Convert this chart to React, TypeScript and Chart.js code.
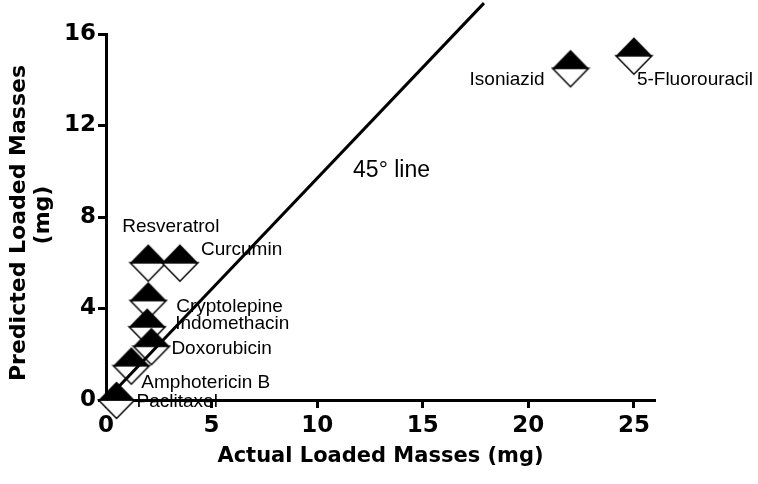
import React, { useEffect, useRef } from 'react';
import { Chart, registerables } from 'chart.js';

Chart.register(...registerables);

// ---- data ----
const drugNames = ['Isoniazid', '5-Fluorouracil', 'Resveratrol', 'Curcumin', 'Cryptolepine', 'Indomethacin', 'Doxorubicin', 'Amphotericin B', 'Paclitaxel'];
const actualMasses = [22.0, 25.0, 2.0, 3.5, 2.0, 1.95, 2.15, 1.2, 0.5];
const predictedMasses = [14.5, 15.05, 6.0, 6.0, 4.35, 3.2, 2.35, 1.5, 0.0];
const refLineX = [0, 17.9];
const refLineY = [0, 17.35];
const xTicks = [0, 5, 10, 15, 20, 25];
const yTicks = [0, 4, 8, 12, 16];
const xTitle = 'Actual Loaded Masses (mg)';
const yTitleLines = ['Predicted Loaded Masses', '(mg)'];
const refLineLabel = '45° line';
const refLineLabelAt = [11.7, 9.75];

// label placement (pixel offsets from the marker centre), styling only
const labelDx = [-26, 3, -26, 21, 28, 28, 20, 10, 20];
const labelDy = [17, 29, -31, -8, 12, 2, 8, 22, 7];
const labelAlign = ['right', 'left', 'left', 'left', 'left', 'left', 'left', 'left', 'left'];

const BOLD = '"DejaVu Sans", sans-serif';
const REG = '"Liberation Sans", Arial, sans-serif';

function makeMarker() {
  const c = document.createElement('canvas');
  c.width = 40;
  c.height = 42;
  const g = c.getContext('2d')!;
  const cx = 20, cy = 21, hw = 18, hh = 18.5;
  g.fillStyle = '#fff';
  g.strokeStyle = '#000';
  g.lineWidth = 1.5;
  g.beginPath();
  g.moveTo(cx - hw, cy);
  g.lineTo(cx, cy + hh);
  g.lineTo(cx + hw, cy);
  g.closePath();
  g.fill();
  g.stroke();
  g.fillStyle = '#000';
  g.beginPath();
  g.moveTo(cx - hw - 0.5, cy + 0.5);
  g.lineTo(cx, cy - hh);
  g.lineTo(cx + hw + 0.5, cy + 0.5);
  g.closePath();
  g.fill();
  return c;
}

const textPlugin = {
  id: 'texts',
  afterDatasetsDraw(chart: any) {
    const { ctx, scales } = chart;
    const x = scales.x, y = scales.y;
    ctx.save();
    ctx.fillStyle = '#000';
    ctx.textBaseline = 'alphabetic';
    ctx.font = '19px ' + REG;
    drugNames.forEach((name, i) => {
      const px = x.getPixelForValue(actualMasses[i]);
      const py = y.getPixelForValue(predictedMasses[i]);
      ctx.textAlign = labelAlign[i];
      ctx.fillText(name, px + labelDx[i], py + labelDy[i]);
    });
    ctx.font = '23px ' + REG;
    ctx.textAlign = 'left';
    ctx.fillText(refLineLabel, x.getPixelForValue(refLineLabelAt[0]), y.getPixelForValue(refLineLabelAt[1]));

    // axis titles
    const area = chart.chartArea;
    ctx.font = 'bold 21px ' + BOLD;
    ctx.textAlign = 'center';
    ctx.fillText(xTitle, (area.left + area.right) / 2, 462);

    ctx.save();
    ctx.translate(25, 223);
    ctx.rotate(-Math.PI / 2);
    ctx.font = 'bold 22px ' + BOLD;
    ctx.fillText(yTitleLines[0], 0, 0);
    ctx.restore();
    ctx.save();
    ctx.translate(49, 215);
    ctx.rotate(-Math.PI / 2);
    ctx.font = 'bold 22px ' + BOLD;
    ctx.fillText(yTitleLines[1], 0, 0);
    ctx.restore();
    ctx.restore();
  },
};

export default function App() {
  const ref = useRef<HTMLCanvasElement>(null);
  useEffect(() => {
    document.body.style.margin = '0';
    const marker = makeMarker();
    const axisCommon = {
      type: 'linear' as const,
      grid: { drawOnChartArea: false, drawTicks: true, tickLength: 8, tickWidth: 3, tickColor: '#000' },
      border: { display: true, width: 3, color: '#000' },
    };
    const chart = new Chart(ref.current!, {
      type: 'scatter',
      data: {
        datasets: [
          {
            type: 'line',
            data: refLineX.map((v, i) => ({ x: v, y: refLineY[i] })),
            borderColor: '#000',
            borderWidth: 3,
            pointRadius: 0,
            clip: false,
          } as any,
          {
            data: actualMasses.map((v, i) => ({ x: v, y: predictedMasses[i] })),
            pointStyle: marker,
            pointRadius: 18,
            clip: false,
          } as any,
        ],
      },
      options: {
        animation: false,
        responsive: false,
        layout: { padding: { left: 0, right: 103, top: 34, bottom: 0 } },
        plugins: { legend: { display: false }, tooltip: { enabled: false } },
        scales: {
          x: {
            ...axisCommon,
            min: 0,
            max: 26,
            afterBuildTicks: (s: any) => { s.ticks = xTicks.map((v) => ({ value: v })); },
            afterFit: (s: any) => { s.height = 84; },
            ticks: { color: '#000', padding: 4, font: { family: BOLD, weight: 'bold', size: 23 } },
          },
          y: {
            ...axisCommon,
            min: 0,
            max: 16,
            afterBuildTicks: (s: any) => { s.ticks = yTicks.map((v) => ({ value: v })); },
            afterFit: (s: any) => { s.width = 106; },
            ticks: { color: '#000', padding: 2, font: { family: BOLD, weight: 'bold', size: 23 } },
          },
        },
      },
      plugins: [textPlugin],
    });
    return () => chart.destroy();
  }, []);
  return <canvas ref={ref} width={758} height={484} style={{ display: 'block' }} />;
}
